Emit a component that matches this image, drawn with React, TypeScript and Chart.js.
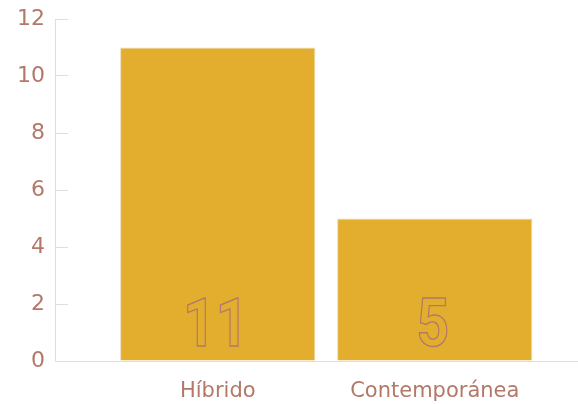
import React, { useEffect, useRef } from "react";
import { Chart, registerables } from "chart.js";

Chart.register(...registerables);

const categories = ["Híbrido", "Contemporánea"];
const values = [11, 5];
const yMin = 0;
const yMax = 12;
const yStep = 2;

const labelColor = "#b37868";
const axisColor = "#e2ddd8";
const barColor = "#e3ae2e";
const barBorder = "#eddcb9";
const fontFamily = '"DejaVu Sans", sans-serif';

const dataLabels = {
  id: "dataLabels",
  afterDatasetsDraw(chart: any) {
    const ctx = chart.ctx;
    const meta = chart.getDatasetMeta(0);
    const sx = 0.85;
    meta.data.forEach((el: any, i: number) => {
      ctx.save();
      ctx.translate(el.x - 2, el.base - 15);
      ctx.scale(sx, 1);
      ctx.font = "bold 67px Roboto, Arial, sans-serif";
      ctx.textAlign = "center";
      ctx.textBaseline = "alphabetic";
      ctx.strokeStyle = labelColor;
      ctx.lineWidth = 1.4;
      ctx.strokeText(String(values[i]), 0, 0);
      ctx.restore();
    });
  },
};

export default function App() {
  const ref = useRef<HTMLCanvasElement>(null);
  useEffect(() => {
    if (!ref.current) return;
    const chart = new Chart(ref.current, {
      type: "bar",
      data: {
        datasets: [
          {
            data: values.map((v, i) => ({ x: i + 1, y: v })),
            backgroundColor: barColor,
            borderColor: barBorder,
            borderWidth: 1,
            categoryPercentage: 1,
            barPercentage: 0.9,
          },
        ],
      },
      options: {
        animation: false,
        responsive: false,
        layout: { padding: { top: 19, right: 0, left: 0, bottom: 0 } },
        plugins: { legend: { display: false }, tooltip: { enabled: false } },
        scales: {
          x: {
            type: "linear",
            offset: false,
            min: 0.25,
            max: 2.66,
            afterBuildTicks: (scale: any) => {
              scale.ticks = categories.map((_, i) => ({ value: i + 1 }));
            },
            afterFit: (scale: any) => {
              scale.height = 43;
              scale.paddingLeft = 0;
              scale.paddingRight = 0;
            },
            grid: { display: false, drawTicks: false, offset: false },
            border: { display: true, color: axisColor, width: 1 },
            ticks: {
              autoSkip: false,
              maxRotation: 0,
              padding: 18,
              color: labelColor,
              font: { family: fontFamily, size: 21 },
              callback: (v: any) => categories[Number(v) - 1] ?? "",
            },
          },
          y: {
            min: yMin,
            max: yMax,
            afterFit: (scale: any) => {
              scale.width = 55;
              scale.paddingTop = 0;
              scale.paddingBottom = 0;
            },
            grid: {
              display: true,
              drawOnChartArea: false,
              drawTicks: true,
              tickLength: -13,
              color: axisColor,
            },
            border: { display: true, color: axisColor, width: 1 },
            ticks: {
              stepSize: yStep,
              padding: 23,
              color: labelColor,
              font: { family: fontFamily, size: 22 },
            },
          },
        },
      },
      plugins: [dataLabels],
    });
    return () => chart.destroy();
  }, []);
  return (
    <div style={{ position: "fixed", left: 0, top: 0, width: 578, height: 404 }}>
      <canvas ref={ref} width={578} height={404} style={{ display: "block" }} />
    </div>
  );
}
